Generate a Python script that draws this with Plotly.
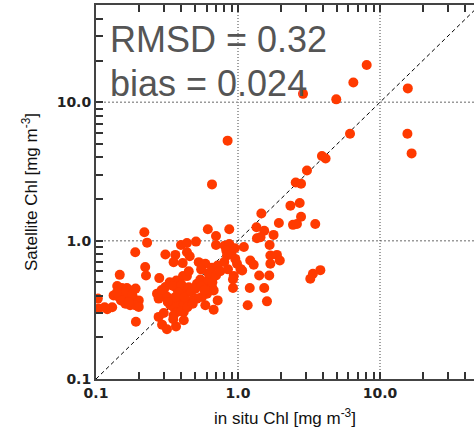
import plotly.graph_objects as go

# in situ Chl (x) and Satellite Chl (y) [mg m^-3]
insitu = [
    2.34, 2.72, 1.46, 2.78, 1.94, 2.44, 2.60, 3.50, 0.613, 0.868,
    0.219, 1.35, 1.53, 1.78, 0.70, 1.36, 1.44, 0.229, 0.397, 0.437,
    0.506, 0.70, 0.806, 0.868, 1.67, 0.189, 0.308, 0.362, 0.437, 0.827,
    1.69, 1.88, 0.457, 0.837, 0.352, 0.408, 0.529, 0.589, 0.957, 0.984,
    1.97, 1.22, 1.29, 1.69, 0.656, 0.719, 0.222, 1.04, 1.07, 3.80,
    3.37, 3.23, 0.147, 0.225, 0.410, 0.437, 0.933, 0.922, 0.279, 0.368,
    0.543, 0.514, 0.605, 1.41, 1.66, 0.141, 0.152, 0.165, 0.174, 0.308,
    0.372, 0.419, 0.656, 0.674, 0.922, 1.21, 1.53, 0.133, 0.145, 0.157,
    0.170, 0.184, 0.200, 0.269, 0.308, 0.382, 0.426, 0.605, 0.558, 0.514,
    0.276, 0.316, 0.103, 0.104, 0.120, 0.161, 0.174, 0.189, 0.200, 0.343,
    0.372, 0.393, 0.419, 0.334, 0.352, 0.474, 0.589, 0.674, 0.719, 1.17,
    1.60, 0.372, 0.352, 0.415, 0.276, 0.191, 0.292, 0.316, 0.366, 0.415,
    2.87, 4.92, 0.845, 0.656, 3.06, 3.90, 4.14, 2.55, 2.78, 8.06,
    6.49, 15.7, 6.15, 15.6, 16.7,
    0.33, 0.35, 0.40, 0.45, 0.38, 0.42, 0.36, 0.32, 0.29, 0.47,
    0.50, 0.55, 0.58, 0.62, 0.66, 0.40, 0.44, 0.48, 0.30, 0.35,
    0.16, 0.18, 0.15, 0.17, 0.19, 0.14, 0.13, 0.115, 0.62, 0.70,
    0.75, 0.85, 0.80, 0.90, 1.10, 0.95, 0.55, 0.45,
]
satellite = [
    1.79, 1.87, 1.57, 1.49, 1.34, 1.30, 1.32, 1.32, 1.21, 1.21,
    1.15, 1.25, 1.18, 1.10, 1.08, 1.04, 1.06, 0.967, 0.931, 0.962,
    0.984, 0.931, 0.92, 0.946, 0.931, 0.825, 0.793, 0.789, 0.825, 0.847,
    0.780, 0.789, 0.772, 0.780, 0.699, 0.688, 0.699, 0.680, 0.738, 0.680,
    0.718, 0.718, 0.669, 0.680, 0.636, 0.661, 0.644, 0.625, 0.608, 0.612,
    0.576, 0.530, 0.566, 0.560, 0.554, 0.554, 0.554, 0.524, 0.536, 0.515,
    0.524, 0.488, 0.502, 0.560, 0.560, 0.470, 0.455, 0.455, 0.437, 0.462,
    0.449, 0.437, 0.462, 0.437, 0.455, 0.455, 0.455, 0.402, 0.392, 0.381,
    0.392, 0.381, 0.370, 0.414, 0.402, 0.402, 0.414, 0.414, 0.392, 0.381,
    0.381, 0.392, 0.381, 0.323, 0.319, 0.350, 0.341, 0.341, 0.332, 0.360,
    0.360, 0.341, 0.350, 0.341, 0.332, 0.370, 0.341, 0.317, 0.370, 0.341,
    0.364, 0.305, 0.289, 0.305, 0.281, 0.259, 0.247, 0.229, 0.240, 0.266,
    11.5, 10.5, 5.28, 2.55, 3.21, 4.09, 3.92, 2.63, 2.58, 18.6,
    13.9, 12.6, 5.93, 5.93, 4.27,
    0.50, 0.47, 0.48, 0.46, 0.42, 0.39, 0.39, 0.36, 0.44, 0.43,
    0.45, 0.47, 0.44, 0.52, 0.50, 0.31, 0.33, 0.35, 0.30, 0.27,
    0.42, 0.41, 0.37, 0.36, 0.45, 0.42, 0.33, 0.33, 0.58, 0.56,
    0.60, 0.62, 0.70, 0.80, 0.90, 0.88, 0.62, 0.60,
]

decades = [0.1, 1, 10]
decade_labels = ["0.1", "1.0", "10.0"]
grid_vals = [1, 10]
one_to_one = [0.1, 100]
axis_span = [0.1, 100]
stats_lines = ["RMSD = 0.32", "bias = 0.024"]

# all tick positions (1..9 per decade); labels only at decades
tick_vals = [m * d for d in decades for m in range(1, 10)]
tick_text = ["<b>" + decade_labels[i] + "</b>" if m == 1 else ""
             for i, d in enumerate(decades) for m in range(1, 10)]

fig = go.Figure()
# dotted reference grid
for g in grid_vals:
    fig.add_trace(go.Scatter(
        x=[g, g], y=axis_span, mode="lines",
        line=dict(color="#444", width=1, dash="1px,2px"),
        hoverinfo="skip", showlegend=False,
    ))
    fig.add_trace(go.Scatter(
        x=axis_span, y=[g, g], mode="lines",
        line=dict(color="#9a9a9a", width=1.5, dash="2px,2px"),
        hoverinfo="skip", showlegend=False,
    ))
fig.add_trace(go.Scatter(
    x=one_to_one, y=one_to_one, mode="lines",
    line=dict(color="black", width=1, dash="4px,3px"),
    hoverinfo="skip", showlegend=False,
))
fig.add_trace(go.Scatter(
    x=insitu, y=satellite, mode="markers",
    marker=dict(color="#ff3a00", size=10, line=dict(width=0)),
    showlegend=False,
))

axis_common = dict(
    type="log", showline=True, linecolor="#444", linewidth=2,
    ticks="inside", ticklen=7, tickcolor="#333", tickwidth=2,
    tickfont=dict(family="DejaVu Sans", size=14, color="#222"),
    showgrid=False,
    tickmode="array", tickvals=tick_vals, ticktext=tick_text,
)

fig.update_xaxes(
    **axis_common,
    range=[-1, 1.662],
    mirror="ticks",
    title=dict(text="in situ Chl [mg m<sup>-3</sup>]",
               font=dict(family="Liberation Sans", size=17, color="#111")),
)
fig.update_yaxes(
    **axis_common,
    range=[-1, 1.703],
    title=dict(text="Satellite Chl [mg m<sup>-3</sup>]",
               font=dict(family="Liberation Sans", size=17, color="#111")),
)

for txt, yp in zip(stats_lines, [0.907, 0.79]):
    fig.add_annotation(
        text=txt, xref="paper", yref="paper", x=0.032, y=yp,
        xanchor="left", yanchor="middle", showarrow=False,
        font=dict(family="Liberation Sans", size=36, color="#555"),
    )

fig.update_layout(
    width=474, height=428,
    margin=dict(l=96, r=0, t=5, b=47),
    plot_bgcolor="white",
)

fig.write_html("out.html")
